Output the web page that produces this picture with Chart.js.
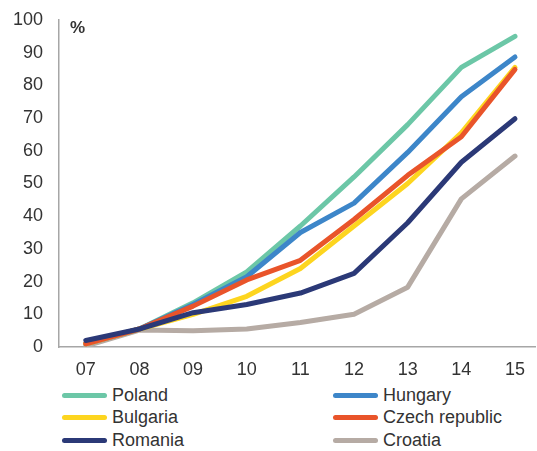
<!DOCTYPE html>
<html>
<head>
<meta charset="utf-8">
<script src="https://cdn.jsdelivr.net/npm/chart.js@4"></script>
<style>
  body { margin: 0; background: #fff; font-family: "Liberation Sans", Arial, sans-serif; }
  #wrap { position: relative; width: 537px; height: 451px; }
  #pct { position: absolute; left: 70px; top: 18px; font-size: 17px; font-weight: bold; color: #333; }
  #legend { position: absolute; left: 62px; top: 384px; width: 475px; }
  .item { position: absolute; display: flex; align-items: center; font-size: 18px; color: #333; height: 22px; }
  .swatch { width: 45px; height: 5px; border-radius: 3px; margin-right: 5px; }
</style>
</head>
<body>
<div id="wrap">
  <canvas id="chart" width="537" height="380"></canvas>
  <div id="pct">%</div>
  <div id="legend"></div>
</div>
<script>
// years on the x axis
const years = ['07', '08', '09', '10', '11', '12', '13', '14', '15'];

// share in %
const poland   = [1, 5.5, 13.5, 23, 37, 52, 68, 85.5, 95];
const hungary  = [1, 5.5, 13, 21.5, 35, 44, 59.5, 76.5, 88.7];
const bulgaria = [1, 5.5, 10, 15.5, 24, 37, 50, 65.5, 85.5];
const czech    = [1, 5.5, 12.5, 20.5, 26.5, 39, 52.5, 64.3, 84.9];
const romania  = [2, 5.5, 10.5, 13, 16.5, 22.5, 38, 56.5, 69.8];
const croatia  = [0.3, 5.2, 5, 5.5, 7.5, 10, 18.3, 45.3, 58.4];

const series = [
  { name: 'Poland', data: poland, color: '#6cc7a7' },
  { name: 'Hungary', data: hungary, color: '#3d86c9' },
  { name: 'Bulgaria', data: bulgaria, color: '#fdd51f' },
  { name: 'Czech republic', data: czech, color: '#e9542a' },
  { name: 'Romania', data: romania, color: '#2b3977' },
  { name: 'Croatia', data: croatia, color: '#b6aba4' }
];

// draw order: later ones on top
const drawOrder = ['Croatia', 'Poland', 'Hungary', 'Bulgaria', 'Czech republic', 'Romania'];

const datasets = series.map(s => {
  return {
    label: s.name,
    data: s.data.map((v, i) => ({ x: i, y: v })),
    borderColor: s.color,
    backgroundColor: s.color,
    borderWidth: 5,
    pointRadius: 0,
    tension: 0,
    borderCapStyle: 'round',
    borderJoinStyle: 'round',
    order: drawOrder.length - drawOrder.indexOf(s.name)
  };
});

const axisColor = '#a6a6a6';

new Chart(document.getElementById('chart'), {
  type: 'line',
  data: { datasets: datasets },
  options: {
    responsive: false,
    animation: false,
    layout: { padding: { left: 14, top: 20, right: 0, bottom: 0 } },
    plugins: { legend: { display: false }, tooltip: { enabled: false } },
    scales: {
      x: {
        type: 'linear',
        min: -0.5,
        max: 8.38,
        afterBuildTicks: scale => {
          scale.ticks = years.map((_, i) => ({ value: i }));
        },
        afterFit: scale => { scale.height = 33; },
        grid: { display: false, drawTicks: false },
        border: { color: axisColor, width: 1.5 },
        ticks: {
          padding: 12,
          color: '#333',
          font: { family: 'Liberation Sans', size: 18 },
          callback: v => years[v],
          maxRotation: 0
        }
      },
      y: {
        min: 0,
        max: 100,
        afterFit: scale => {
          scale.width = 45;
          scale.paddingTop = 0;
          scale.paddingBottom = 0;
        },
        grid: { display: false, drawTicks: false },
        border: { color: axisColor, width: 1.5 },
        ticks: {
          stepSize: 10,
          padding: 16,
          color: '#333',
          font: { family: 'Liberation Sans', size: 18 }
        }
      }
    }
  }
});

// legend in two columns
const legend = document.getElementById('legend');
series.forEach((s, i) => {
  const item = document.createElement('div');
  item.className = 'item';
  item.style.left = (i % 2 === 0 ? 0 : 271) + 'px';
  item.style.top = (Math.floor(i / 2) * 22.5) + 'px';
  item.innerHTML = `<span class="swatch" style="background:${s.color}"></span><span>${s.name}</span>`;
  legend.appendChild(item);
});
</script>
</body>
</html>
